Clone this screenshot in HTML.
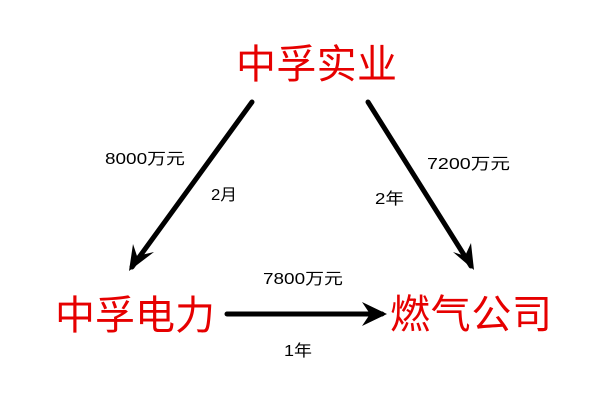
<!DOCTYPE html>
<html><head><meta charset="utf-8"><style>
body{margin:0;width:600px;height:400px;background:#fff;overflow:hidden}
</style></head><body>
<svg width="600" height="400" xmlns="http://www.w3.org/2000/svg" style="font-family:'Liberation Sans','Noto Sans CJK SC',sans-serif">
<g fill="#e60000" font-size="40">
<text x="236" y="78" textLength="161">中孚实业</text>
<text x="55" y="329" textLength="160">中孚电力</text>
<text x="390" y="328" textLength="162">燃气公司</text>
</g>
<g stroke="#000" stroke-width="5" stroke-linecap="round" fill="none">
<line x1="252" y1="102" x2="132" y2="267"/>
<line x1="368" y1="102" x2="471" y2="266"/>
<line x1="227" y1="314" x2="382" y2="314"/>
</g>
<g fill="#000">
<polygon points="129,271 133,244 137,256 154,252"/>
<polygon points="474,270 453,252 465,256 471,243"/>
<polygon points="387,314 362,302 370,314 362,326"/>
</g>
<g font-size="16" fill="#000">
<text x="105" y="164" textLength="80" lengthAdjust="spacingAndGlyphs">8000万元</text>
<text x="211" y="200" textLength="26" lengthAdjust="spacingAndGlyphs">2月</text>
<text x="427" y="169" textLength="83" lengthAdjust="spacingAndGlyphs">7200万元</text>
<text x="375" y="204" textLength="29" lengthAdjust="spacingAndGlyphs">2年</text>
<text x="263" y="284" textLength="80" lengthAdjust="spacingAndGlyphs">7800万元</text>
<text x="284" y="356" textLength="28" lengthAdjust="spacingAndGlyphs">1年</text>
</g>
</svg>
</body></html>
